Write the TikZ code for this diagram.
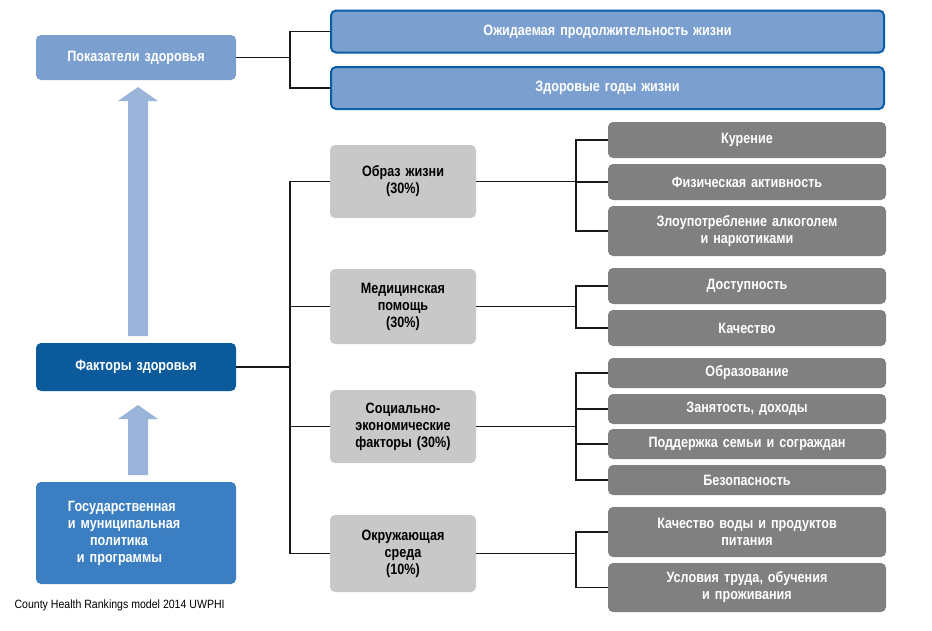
\documentclass[tikz,border=0pt]{standalone}
\usepackage{fontspec}
\setmainfont{Liberation Sans}[FakeStretch=0.84]
\newfontfamily\capfont{Liberation Sans}[FakeStretch=0.88]
\usetikzlibrary{shapes.arrows}
\definecolor{lblue}{HTML}{7BA0CF}
\definecolor{bborder}{HTML}{0A5DA8}
\definecolor{dblue}{HTML}{0B5A9C}
\definecolor{mblue}{HTML}{3B7FC2}
\definecolor{arrowc}{HTML}{9AB4DA}
\definecolor{lgrey}{HTML}{C8C8C8}
\definecolor{dgrey}{HTML}{808080}
\tikzset{
  box/.style={rounded corners=5pt, text width=#1, align=center, font=\fontsize{15}{17}\selectfont\bfseries, inner sep=0pt},
  wbox/.style={box=#1, text=white},
  lnk/.style={line width=1.6pt, black!90},
}
\begin{document}
\begin{tikzpicture}[x=1pt,y=-1pt]
\useasboundingbox (0,0) rectangle (932,630);
% left column
\node[wbox=200pt, fill=lblue, minimum height=45pt] (ph) at (136,57.5) {Показатели здоровья};
\node[wbox=200pt, fill=dblue, minimum height=48pt] (fh) at (136,367) {Факторы здоровья};
\node[wbox=200pt, fill=mblue, minimum height=102pt, align=left] (gp) at (136,533) {\hspace*{32pt}\parbox{160pt}{\raggedright Государственная\\ и муниципальная\\ \hspace*{22pt}политика\\ \hspace*{9pt}и программы}};
\node[anchor=west, font=\capfont\fontsize{12}{14}\selectfont] (cap) at (11,605) {County Health Rankings model 2014 UWPHI};
% arrows
\coordinate (a1s) at (138,336);
\coordinate (a1e) at (138,87);
\fill[arrowc] (128,336) -- (128,101) -- (118,101) -- (138,87) -- (158,101) -- (148,101) -- (148,336) -- cycle;
\fill[arrowc] (128,475) -- (128,419) -- (118,419) -- (138,405) -- (158,419) -- (148,419) -- (148,475) -- cycle;
% outcomes
\node[wbox=553pt, fill=lblue, draw=bborder, line width=2pt, minimum height=42pt] (le) at (607.5,31.5) {Ожидаемая продолжительность жизни};
\node[wbox=553pt, fill=lblue, draw=bborder, line width=2pt, minimum height=42pt] (hy) at (607.5,88) {Здоровые годы жизни};
% factors
\node[box=146pt, fill=lgrey, minimum height=73pt] (ls) at (403,181.5) {Образ жизни\\(30\%)};
\node[box=146pt, fill=lgrey, minimum height=75pt] (mc) at (403,306.5) {Медицинская\\помощь\\(30\%)};
\node[box=146pt, fill=lgrey, minimum height=73pt] (se) at (403,426.5) {Социально-\\экономические\\факторы (30\%)};
\node[box=146pt, fill=lgrey, minimum height=77pt] (en) at (403,553.5) {Окружающая\\среда\\(10\%)};
% details
\foreach \n/\y/\h/\t in {
  k1/140/36/{Курение},
  k2/182/36/{Физическая активность},
  k3/231/50/{Злоупотребление алкоголем\\и наркотиками},
  m1/286/36/{Доступность},
  m2/328/36/{Качество},
  s1/373/30/{Образование},
  s2/409/30/{Занятость, доходы},
  s3/444/30/{Поддержка семьи и сограждан},
  s4/480/30/{Безопасность},
  e1/532/50/{Качество воды и продуктов\\питания},
  e2/587.5/49/{Условия труда, обучения\\и проживания}}
  {\node[wbox=278pt, fill=dgrey, minimum height=\h pt] (\n) at (747,\y) {\t};}
% connectors
\draw[lnk] (ph.east) -- (290,57.5) |- (le.west);
\draw[lnk] (290,57.5) |- (hy.west);
\draw[lnk] (fh.east) -- (290,367);
\draw[lnk] (ls.west) -| (290,553.5) -- (en.west);
\draw[lnk] (mc.west) -- (290,306.5);
\draw[lnk] (se.west) -- (290,426.5);
\draw[lnk] (ls.east) -- (576,181.5);
\draw[lnk] (k1.west) -| (576,231) -- (k3.west);
\draw[lnk] (576,182) -- (k2.west);
\draw[lnk] (mc.east) -- (576,306.5);
\draw[lnk] (m1.west) -| (576,328) -- (m2.west);
\draw[lnk] (se.east) -- (576,426.5);
\draw[lnk] (s1.west) -| (576,480) -- (s4.west);
\draw[lnk] (576,409) -- (s2.west);
\draw[lnk] (576,444) -- (s3.west);
\draw[lnk] (en.east) -- (576,553.5);
\draw[lnk] (e1.west) -| (576,587.5) -- (e2.west);
\end{tikzpicture}
\end{document}
